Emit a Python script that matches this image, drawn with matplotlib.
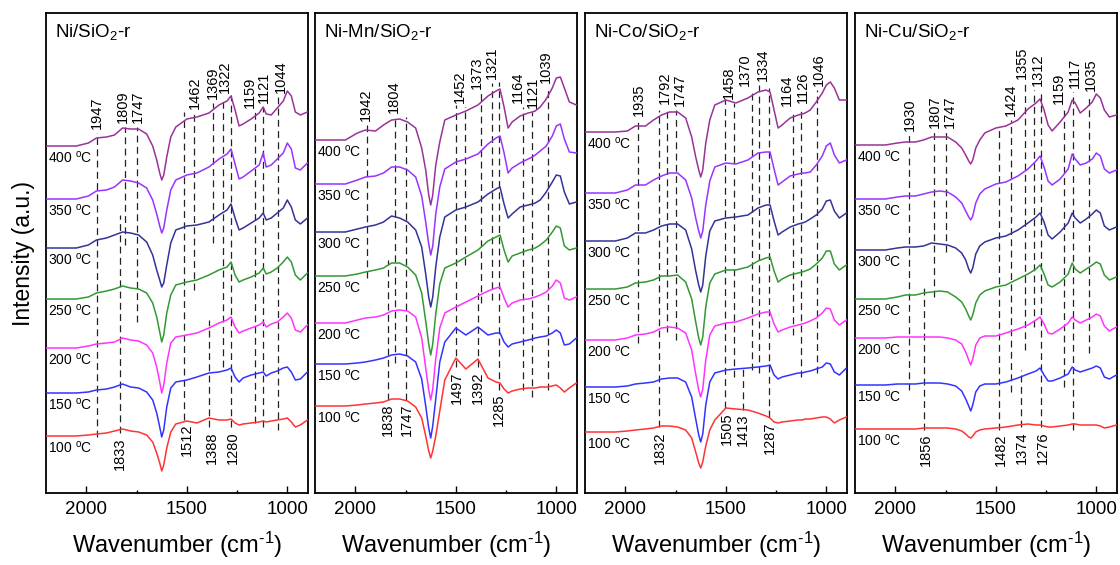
import matplotlib
matplotlib.use('Agg')
import matplotlib.pyplot as plt
from matplotlib.transforms import blended_transform_factory
from matplotlib.ticker import FixedLocator

plt.rcParams['font.family'] = ['Liberation Sans', 'DejaVu Sans']
plt.rcParams['mathtext.fontset'] = 'custom'
plt.rcParams['mathtext.rm'] = 'Liberation Sans'
plt.rcParams['mathtext.it'] = 'Liberation Sans:italic'
plt.rcParams['mathtext.bf'] = 'Liberation Sans:bold'

# ---------------- data ----------------
wavenumber = [2200, 2050, 1990, 1950, 1900, 1860, 1820, 1780, 1740, 1700, 1670, 1650, 1635, 1625,
              1615, 1600, 1580, 1555, 1500, 1450, 1390, 1340, 1300, 1280, 1260, 1240, 1220, 1180,
              1140, 1120, 1105, 1080, 1050, 1020, 1000, 980, 960, 935, 900]

temperatures = ['400', '350', '300', '250', '200', '150', '100']

# Ni/SiO2-r  (intensity relative to each spectrum's own start, a.u.)
ni_400 = [0,0,3,8,9,11,18,17,17,12,0,-14,-27,-34,-29,-11,9,19,27,29,33,41,45,50,36,20,22,27,33,39,32,31,38,45,55,50,34,31,34]
ni_350 = [0,0,3,8,9,12,19,18,16,11,-1,-15,-27,-34,-29,-11,9,19,24,26,32,40,45,50,35,20,22,28,34,46,32,34,40,46,56,50,31,29,36]
ni_300 = [0,0,3,8,10,13,16,15,13,6,-7,-22,-32,-39,-35,-17,5,18,22,23,26,33,38,44,30,18,20,25,30,35,28,30,35,40,48,41,28,24,30]
ni_250 = [0,0,2,6,8,10,13,11,10,6,-4,-18,-33,-43,-36,-14,4,14,17,19,24,29,32,37,24,17,19,22,26,31,25,27,31,37,42,37,24,19,26]
ni_200 = [0,0,2,4,5,6,10,8,7,3,-5,-19,-34,-45,-37,-15,5,11,13,15,20,25,28,31,21,15,17,20,23,26,21,24,26,31,35,30,18,16,23]
ni_150 = [0,0,1,3,4,6,9,6,5,1,-7,-20,-34,-44,-37,-14,5,11,13,16,20,21,23,25,16,11,15,18,20,21,17,20,22,25,26,21,13,14,21]
ni_100 = [0,0,1,2,3,5,7,5,4,1,-6,-17,-27,-35,-29,-12,4,12,15,13,18,16,16,17,13,11,12,13,14,15,14,15,16,17,18,14,9,11,16]
ni_offsets = [347, 294, 245, 194, 145, 100, 57]

# Ni-Mn/SiO2-r
mn_400 = [0,0,7,10,9,15,20,21,18,12,-8,-30,-55,-65,-55,-25,-2,20,25,29,35,44,49,51,33,12,18,24,27,28,29,33,41,52,62,63,52,38,35]
mn_350 = [0,0,4,7,8,11,17,17,14,7,-12,-38,-60,-71,-62,-30,-3,15,22,25,30,40,46,48,31,11,16,21,25,27,29,33,38,48,58,60,45,32,31]
mn_300 = [0,0,3,5,7,10,16,14,10,2,-15,-42,-65,-75,-65,-35,-5,15,22,25,30,38,43,45,28,14,18,25,27,28,29,32,40,50,57,56,40,28,30]
mn_250 = [0,0,2,4,6,8,13,13,9,1,-17,-45,-68,-79,-68,-38,-8,8,13,19,26,35,39,41,26,14,20,23,26,27,28,31,36,44,50,48,30,26,28]
mn_200 = [0,0,3,5,6,8,12,13,12,6,-15,-45,-67,-77,-66,-36,-5,10,16,21,27,32,35,36,25,16,20,23,24,25,26,28,31,37,43,40,25,23,26]
mn_150 = [0,0,1,2,4,6,9,10,8,2,-15,-42,-64,-74,-62,-35,2,22,36,29,37,29,31,31,22,17,20,22,24,25,26,27,28,31,34,31,19,20,26]
mn_100 = [0,0,1,2,3,4,7,7,5,-1,-12,-30,-45,-52,-45,-30,-5,26,48,37,47,28,24,23,17,13,15,17,18,18,18,19,19,20,21,18,14,18,23]
mn_offsets = [353, 309, 261, 217, 170, 129, 87]

# Ni-Co/SiO2-r
co_400 = [0,0,1,6,6,12,17,20,20,14,-5,-25,-38,-45,-38,-11,12,27,32,29,34,40,42,40,22,4,7,14,17,18,19,22,30,39,47,50,44,32,32]
co_350 = [0,0,3,8,8,13,17,20,20,13,-5,-25,-38,-45,-38,-12,12,26,30,29,33,40,41,41,24,8,11,17,19,20,20,21,28,37,47,50,38,30,33]
co_300 = [0,0,3,8,8,11,15,17,17,11,-8,-30,-44,-51,-44,-15,10,20,23,24,26,33,36,36,20,6,9,14,17,18,19,22,26,32,40,41,30,23,28]
co_250 = [0,0,2,6,7,9,13,13,14,7,-10,-33,-49,-56,-48,-18,6,15,19,19,22,28,31,32,18,7,10,14,16,17,18,20,25,31,38,38,25,19,24]
co_200 = [0,0,2,5,6,8,12,13,12,7,-10,-34,-50,-57,-49,-20,5,14,17,18,22,26,28,28,16,8,10,13,15,16,17,19,22,27,32,31,20,15,20]
co_150 = [0,0,1,3,4,5,8,9,9,5,-10,-32,-48,-55,-47,-18,5,14,17,18,19,20,21,22,12,8,10,12,14,14,15,16,18,20,24,23,15,12,19]
co_100 = [0,0,1,2,3,4,6,6,5,2,-6,-20,-31,-36,-30,-14,2,12,24,23,22,19,16,14,10,9,10,11,12,12,13,13,14,15,15,13,9,12,15]
co_offsets = [361, 300, 252, 204, 153, 106, 61]

# Ni-Cu/SiO2-r
cu_400 = [0,0,2,3,3,5,8,8,8,3,-3,-10,-16,-19,-15,-3,5,12,17,19,25,36,42,46,35,20,14,23,33,45,42,32,37,43,51,47,35,28,30]
cu_350 = [0,0,2,3,3,5,7,8,7,2,-4,-12,-18,-21,-17,-4,5,10,15,17,23,30,38,43,32,18,14,20,30,45,40,34,36,40,46,43,30,26,29]
cu_300 = [0,0,2,3,3,4,7,6,5,2,-3,-10,-19,-23,-18,-4,4,8,12,14,20,27,33,37,28,15,11,18,27,37,32,27,31,36,40,37,24,20,23]
cu_250 = [0,0,2,4,4,6,7,8,7,2,-3,-10,-17,-21,-16,-4,4,8,12,14,20,25,30,34,25,14,12,17,25,36,30,26,30,34,37,35,24,19,22]
cu_200 = [0,0,1,1,1,1,1,1,0,-2,-6,-14,-22,-27,-21,-7,0,2,2,5,9,13,18,21,14,5,4,9,15,21,18,15,18,21,24,22,12,7,11]
cu_150 = [0,0,1,1,1,2,2,2,1,-1,-6,-14,-21,-26,-20,-7,-1,1,1,3,7,11,14,17,10,4,4,7,11,18,15,13,15,17,19,17,8,6,10]
cu_100 = [0,0,0,0,0,1,1,1,1,0,-2,-5,-8,-9,-7,-3,-1,0,1,2,4,5,4,4,3,2,2,3,4,5,5,4,4,4,4,3,1,2,4]
cu_offsets = [348, 294, 243, 194, 155, 108, 64]

# band assignments (dashed markers): band, lower / upper end of dashed line, label anchor (cm-1)
ni_top_wn = [1947, 1809, 1747, 1462, 1369, 1322, 1159, 1121, 1044]
ni_top_lo = [56, 248, 171, 203, 250, 126, 70, 66, 63]
ni_top_hi = [360, 366, 366, 380, 390, 396, 381, 386, 396]
ni_top_lx = [1948, 1819, 1744, 1460, 1371, 1309, 1186, 1116, 1034]
ni_bot_wn = [1833, 1512, 1388, 1280]
ni_bot_lo = [60, 73, 66, 66]
ni_bot_hi = [278, 381, 173, 398]
ni_bot_lx = [1834, 1502, 1377, 1272]

mn_top_wn = [1942, 1804, 1452, 1373, 1321, 1164, 1121, 1039]
mn_top_lo = [215, 130, 228, 190, 193, 103, 96, 103]
mn_top_hi = [368, 376, 386, 400, 410, 386, 381, 406]
mn_top_lx = [1950, 1809, 1480, 1397, 1319, 1189, 1115, 1050]
mn_bot_wn = [1838, 1747, 1497, 1392, 1285]
mn_bot_lo = [93, 93, 126, 126, 103]
mn_bot_hi = [233, 376, 388, 203, 411]
mn_bot_lx = [1839, 1746, 1493, 1391, 1286]

co_top_wn = [1935, 1792, 1747, 1458, 1370, 1334, 1164, 1126, 1046]
co_top_lo = [150, 161, 153, 116, 123, 120, 158, 116, 120]
co_top_hi = [373, 385, 383, 390, 403, 408, 383, 386, 403]
co_top_lx = [1932, 1803, 1728, 1487, 1405, 1314, 1196, 1118, 1038]
co_bot_wn = [1832, 1505, 1413, 1287]
co_bot_lo = [66, 85, 83, 76]
co_bot_hi = [383, 393, 126, 405]
co_bot_lx = [1829, 1497, 1414, 1281]

cu_top_wn = [1930, 1807, 1747, 1424, 1355, 1312, 1159, 1117, 1035]
cu_top_lo = [103, 196, 241, 101, 143, 166, 106, 63, 140]
cu_top_hi = [358, 361, 361, 373, 410, 403, 385, 401, 398]
cu_top_lx = [1930, 1804, 1731, 1424, 1369, 1291, 1186, 1108, 1027]
cu_bot_wn = [1856, 1482, 1374, 1276]
cu_bot_lo = [63, 63, 66, 66]
cu_bot_hi = [206, 365, 123, 400]
cu_bot_lx = [1850, 1477, 1369, 1266]

panel_titles = ['Ni/SiO$_2$-r', 'Ni-Mn/SiO$_2$-r', 'Ni-Co/SiO$_2$-r', 'Ni-Cu/SiO$_2$-r']
line_colors = ['#993399', '#9933FF', '#333399', '#339933', '#FF33FF', '#3333FF', '#FF3333']

panels = [
    ([ni_400, ni_350, ni_300, ni_250, ni_200, ni_150, ni_100], ni_offsets,
     (ni_top_wn, ni_top_lo, ni_top_hi, ni_top_lx), (ni_bot_wn, ni_bot_lo, ni_bot_hi, ni_bot_lx)),
    ([mn_400, mn_350, mn_300, mn_250, mn_200, mn_150, mn_100], mn_offsets,
     (mn_top_wn, mn_top_lo, mn_top_hi, mn_top_lx), (mn_bot_wn, mn_bot_lo, mn_bot_hi, mn_bot_lx)),
    ([co_400, co_350, co_300, co_250, co_200, co_150, co_100], co_offsets,
     (co_top_wn, co_top_lo, co_top_hi, co_top_lx), (co_bot_wn, co_bot_lo, co_bot_hi, co_bot_lx)),
    ([cu_400, cu_350, cu_300, cu_250, cu_200, cu_150, cu_100], cu_offsets,
     (cu_top_wn, cu_top_lo, cu_top_hi, cu_top_lx), (cu_bot_wn, cu_bot_lo, cu_bot_hi, cu_bot_lx)),
]

# ---------------- figure ----------------
W, H = 1120, 565
fig = plt.figure(figsize=(W / 100, H / 100), dpi=100)
lefts_px = [46, 315, 585, 855]
dash = (0, (5.5, 3.5))

for i, (spectra, offs, top, bot) in enumerate(panels):
    ax = fig.add_axes([lefts_px[i] / W, 72 / H, 262 / W, 480 / H])
    for spec, off, col in zip(spectra, offs, line_colors):
        ax.plot(wavenumber, [off + v for v in spec], color=col, lw=1.1, zorder=3)

    ax.set_xlim(2201, 897)
    ax.set_ylim(0, 480)

    # dashed band markers
    for wn, lo, hi, lx in zip(*top):
        ax.vlines(wn, lo, hi, colors='#222222', linestyles=dash, lw=0.9, zorder=2)
        ax.text(lx, hi + 4, str(wn), rotation=90, ha='center', va='bottom', fontsize=10.5)
    for wn, lo, hi, lx in zip(*bot):
        ax.vlines(wn, lo, hi, colors='#222222', linestyles=dash, lw=0.9, zorder=2)
        ax.text(lx, lo - 4, str(wn), rotation=90, ha='center', va='top', fontsize=10.5)

    # temperature labels
    tr = blended_transform_factory(ax.transAxes, ax.transData)
    for t, off in zip(temperatures, offs):
        ax.text(0.006, off - 12, t + ' $^{\\mathrm{o}}$C', transform=tr,
                ha='left', va='center', fontsize=10)

    ax.text(0.034, 0.982, panel_titles[i], transform=ax.transAxes,
            ha='left', va='top', fontsize=13.5)

    ax.xaxis.set_major_locator(FixedLocator([2000, 1500, 1000]))
    ax.xaxis.set_minor_locator(FixedLocator([1750, 1250]))
    ax.tick_params(axis='x', which='major', direction='in', length=5, width=1,
                   labelsize=13.5, pad=6, top=False)
    ax.tick_params(axis='x', which='minor', direction='in', length=2.5, width=1, top=False)
    ax.set_yticks([])
    for sp in ax.spines.values():
        sp.set_linewidth(1.3)
    ax.set_xlabel('Wavenumber (cm$^{\\text{-1}}$)', fontsize=17, labelpad=8)
    if i == 0:
        ax.set_ylabel('Intensity (a.u.)', fontsize=16.5, labelpad=8)

fig.savefig('out.png', dpi=100)
